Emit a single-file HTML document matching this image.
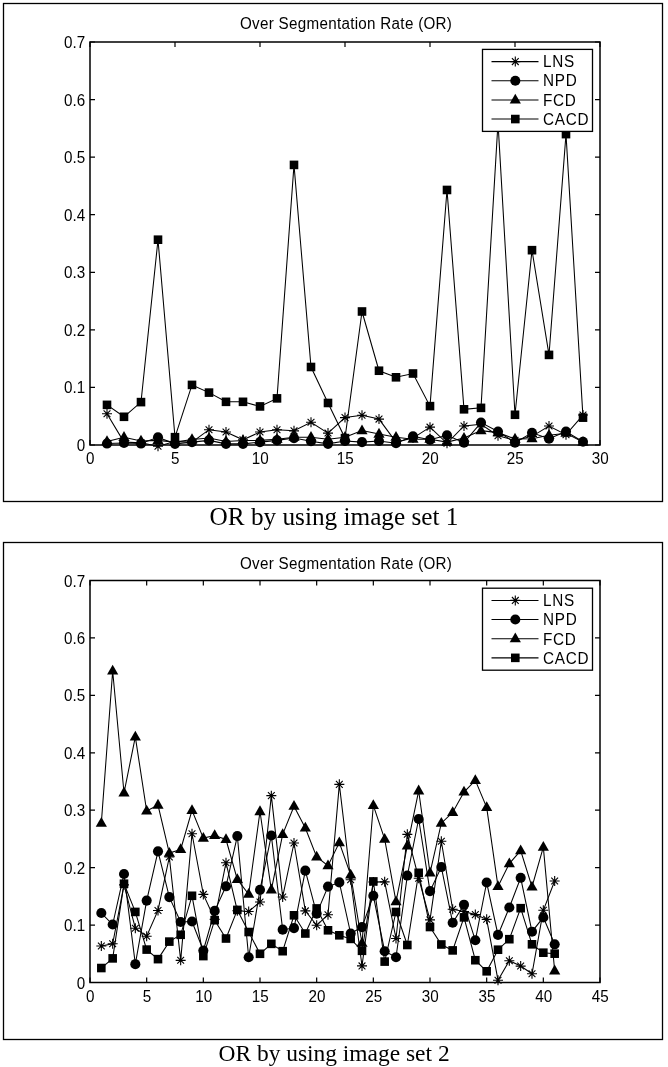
<!DOCTYPE html><html><head><meta charset="utf-8"><title>OR plots</title><style>html,body{margin:0;padding:0;background:#fff}svg{display:block}.ln{fill:none;stroke:#000;stroke-width:1.05;stroke-linejoin:miter}.st{fill:none;stroke:#000;stroke-width:1.1}.ax{fill:none;stroke:#000;stroke-width:1.5}.tk{fill:none;stroke:#000;stroke-width:1.2}.fr{fill:none;stroke:#000;stroke-width:1.3}text{font-family:"Liberation Sans",Arial,sans-serif;fill:#000}.t{font-size:15.2px;letter-spacing:0.3px}.g{font-size:15.3px;letter-spacing:0.75px}.l{font-size:15.2px}.c{font-family:"Liberation Serif","Times New Roman",serif;}</style></head><body>
<svg width="668" height="1067" viewBox="0 0 668 1067">
<rect width="668" height="1067" fill="#fff"/>
<rect x="3.5" y="3.5" width="659" height="498" class="fr"/>
<rect x="3.5" y="542.5" width="659" height="497" class="fr"/>
<g>
<text transform="matrix(1 0 0 1.08 346.1 28.7)" class="t" text-anchor="middle">Over Segmentation Rate (OR)</text>
<polyline points="107,413.68 124,442.12 141,442.7 158,446.15 175,441.55 192,442.12 209,429.69 226,431.99 243,439.82 260,431.99 277,429.69 294,430.84 311,422.32 328,433.08 345,417.6 362,415.29 379,419.09 396,442.12 413,438.09 430,427.15 447,443.27 464,426 481,424.27 498,435.79 515,440.39 532,436.36 549,426 566,434.64 583,415.06" class="ln"/>
<path d="M102 413.68H112M107 408.68V418.68M103.6 410.28L110.4 417.08M103.6 417.08L110.4 410.28" class="st"/>
<path d="M119 442.12H129M124 437.12V447.12M120.6 438.72L127.4 445.52M120.6 445.52L127.4 438.72" class="st"/>
<path d="M136 442.7H146M141 437.7V447.7M137.6 439.3L144.4 446.1M137.6 446.1L144.4 439.3" class="st"/>
<path d="M153 446.15H163M158 441.15V451.15M154.6 442.75L161.4 449.55M154.6 449.55L161.4 442.75" class="st"/>
<path d="M170 441.55H180M175 436.55V446.55M171.6 438.15L178.4 444.95M171.6 444.95L178.4 438.15" class="st"/>
<path d="M187 442.12H197M192 437.12V447.12M188.6 438.72L195.4 445.52M188.6 445.52L195.4 438.72" class="st"/>
<path d="M204 429.69H214M209 424.69V434.69M205.6 426.29L212.4 433.09M205.6 433.09L212.4 426.29" class="st"/>
<path d="M221 431.99H231M226 426.99V436.99M222.6 428.59L229.4 435.39M222.6 435.39L229.4 428.59" class="st"/>
<path d="M238 439.82H248M243 434.82V444.82M239.6 436.42L246.4 443.22M239.6 443.22L246.4 436.42" class="st"/>
<path d="M255 431.99H265M260 426.99V436.99M256.6 428.59L263.4 435.39M256.6 435.39L263.4 428.59" class="st"/>
<path d="M272 429.69H282M277 424.69V434.69M273.6 426.29L280.4 433.09M273.6 433.09L280.4 426.29" class="st"/>
<path d="M289 430.84H299M294 425.84V435.84M290.6 427.44L297.4 434.24M290.6 434.24L297.4 427.44" class="st"/>
<path d="M306 422.32H316M311 417.32V427.32M307.6 418.92L314.4 425.72M307.6 425.72L314.4 418.92" class="st"/>
<path d="M323 433.08H333M328 428.08V438.08M324.6 429.68L331.4 436.48M324.6 436.48L331.4 429.68" class="st"/>
<path d="M340 417.6H350M345 412.6V422.6M341.6 414.2L348.4 421M341.6 421L348.4 414.2" class="st"/>
<path d="M357 415.29H367M362 410.29V420.29M358.6 411.89L365.4 418.69M358.6 418.69L365.4 411.89" class="st"/>
<path d="M374 419.09H384M379 414.09V424.09M375.6 415.69L382.4 422.49M375.6 422.49L382.4 415.69" class="st"/>
<path d="M391 442.12H401M396 437.12V447.12M392.6 438.72L399.4 445.52M392.6 445.52L399.4 438.72" class="st"/>
<path d="M408 438.09H418M413 433.09V443.09M409.6 434.69L416.4 441.49M409.6 441.49L416.4 434.69" class="st"/>
<path d="M425 427.15H435M430 422.15V432.15M426.6 423.75L433.4 430.55M426.6 430.55L433.4 423.75" class="st"/>
<path d="M442 443.27H452M447 438.27V448.27M443.6 439.87L450.4 446.67M443.6 446.67L450.4 439.87" class="st"/>
<path d="M459 426H469M464 421V431M460.6 422.6L467.4 429.4M460.6 429.4L467.4 422.6" class="st"/>
<path d="M476 424.27H486M481 419.27V429.27M477.6 420.87L484.4 427.67M477.6 427.67L484.4 420.87" class="st"/>
<path d="M493 435.79H503M498 430.79V440.79M494.6 432.39L501.4 439.19M494.6 439.19L501.4 432.39" class="st"/>
<path d="M510 440.39H520M515 435.39V445.39M511.6 436.99L518.4 443.79M511.6 443.79L518.4 436.99" class="st"/>
<path d="M527 436.36H537M532 431.36V441.36M528.6 432.96L535.4 439.76M528.6 439.76L535.4 432.96" class="st"/>
<path d="M544 426H554M549 421V431M545.6 422.6L552.4 429.4M545.6 429.4L552.4 422.6" class="st"/>
<path d="M561 434.64H571M566 429.64V439.64M562.6 431.24L569.4 438.04M562.6 438.04L569.4 431.24" class="st"/>
<path d="M578 415.06H588M583 410.06V420.06M579.6 411.66L586.4 418.46M579.6 418.46L586.4 411.66" class="st"/>
<polyline points="107,443.56 124,442.99 141,443.56 158,437.23 175,443.85 192,442.12 209,440.39 226,443.85 243,443.85 260,442.12 277,440.39 294,438.09 311,441.2 328,443.85 345,440.97 362,442.12 379,440.97 396,443.27 413,436.36 430,439.82 447,435.21 464,442.7 481,422.55 498,431.47 515,442.7 532,432.74 549,438.67 566,431.47 583,441.78" class="ln"/>
<circle cx="107" cy="443.56" r="5.05"/>
<circle cx="124" cy="442.99" r="5.05"/>
<circle cx="141" cy="443.56" r="5.05"/>
<circle cx="158" cy="437.23" r="5.05"/>
<circle cx="175" cy="443.85" r="5.05"/>
<circle cx="192" cy="442.12" r="5.05"/>
<circle cx="209" cy="440.39" r="5.05"/>
<circle cx="226" cy="443.85" r="5.05"/>
<circle cx="243" cy="443.85" r="5.05"/>
<circle cx="260" cy="442.12" r="5.05"/>
<circle cx="277" cy="440.39" r="5.05"/>
<circle cx="294" cy="438.09" r="5.05"/>
<circle cx="311" cy="441.2" r="5.05"/>
<circle cx="328" cy="443.85" r="5.05"/>
<circle cx="345" cy="440.97" r="5.05"/>
<circle cx="362" cy="442.12" r="5.05"/>
<circle cx="379" cy="440.97" r="5.05"/>
<circle cx="396" cy="443.27" r="5.05"/>
<circle cx="413" cy="436.36" r="5.05"/>
<circle cx="430" cy="439.82" r="5.05"/>
<circle cx="447" cy="435.21" r="5.05"/>
<circle cx="464" cy="442.7" r="5.05"/>
<circle cx="481" cy="422.55" r="5.05"/>
<circle cx="498" cy="431.47" r="5.05"/>
<circle cx="515" cy="442.7" r="5.05"/>
<circle cx="532" cy="432.74" r="5.05"/>
<circle cx="549" cy="438.67" r="5.05"/>
<circle cx="566" cy="431.47" r="5.05"/>
<circle cx="583" cy="441.78" r="5.05"/>
<polyline points="107,441.43 124,437.29 141,440.97 158,440.39 175,442.12 192,439.53 209,438.09 226,441.55 243,440.51 260,440.39 277,439.24 294,437.17 311,437.17 328,439.24 345,437.17 362,430.61 379,434.06 396,437.17 413,439.24 430,439.24 447,442.12 464,438.09 481,430.61 498,432.62 515,439.07 532,438.67 549,435.21 566,433.2 583,442.12" class="ln"/>
<path d="M107 435.23L112.6 445.03L101.4 445.03Z"/>
<path d="M124 431.09L129.6 440.89L118.4 440.89Z"/>
<path d="M141 434.77L146.6 444.57L135.4 444.57Z"/>
<path d="M158 434.19L163.6 443.99L152.4 443.99Z"/>
<path d="M175 435.92L180.6 445.72L169.4 445.72Z"/>
<path d="M192 433.33L197.6 443.13L186.4 443.13Z"/>
<path d="M209 431.89L214.6 441.69L203.4 441.69Z"/>
<path d="M226 435.35L231.6 445.15L220.4 445.15Z"/>
<path d="M243 434.31L248.6 444.11L237.4 444.11Z"/>
<path d="M260 434.19L265.6 443.99L254.4 443.99Z"/>
<path d="M277 433.04L282.6 442.84L271.4 442.84Z"/>
<path d="M294 430.97L299.6 440.77L288.4 440.77Z"/>
<path d="M311 430.97L316.6 440.77L305.4 440.77Z"/>
<path d="M328 433.04L333.6 442.84L322.4 442.84Z"/>
<path d="M345 430.97L350.6 440.77L339.4 440.77Z"/>
<path d="M362 424.41L367.6 434.21L356.4 434.21Z"/>
<path d="M379 427.86L384.6 437.66L373.4 437.66Z"/>
<path d="M396 430.97L401.6 440.77L390.4 440.77Z"/>
<path d="M413 433.04L418.6 442.84L407.4 442.84Z"/>
<path d="M430 433.04L435.6 442.84L424.4 442.84Z"/>
<path d="M447 435.92L452.6 445.72L441.4 445.72Z"/>
<path d="M464 431.89L469.6 441.69L458.4 441.69Z"/>
<path d="M481 424.41L486.6 434.21L475.4 434.21Z"/>
<path d="M498 426.42L503.6 436.22L492.4 436.22Z"/>
<path d="M515 432.87L520.6 442.67L509.4 442.67Z"/>
<path d="M532 432.47L537.6 442.27L526.4 442.27Z"/>
<path d="M549 429.01L554.6 438.81L543.4 438.81Z"/>
<path d="M566 427L571.6 436.8L560.4 436.8Z"/>
<path d="M583 435.92L588.6 445.72L577.4 445.72Z"/>
<polyline points="107,404.87 124,416.79 141,402.11 158,239.7 175,437.17 192,384.9 209,392.61 226,401.82 243,401.82 260,406.43 277,398.37 294,164.91 311,366.99 328,402.97 345,438.09 362,311.49 379,370.73 396,377.3 413,373.5 430,406.14 447,189.96 464,409.31 481,407.87 498,122.6 515,414.77 532,250.18 549,354.9 566,134.11 583,417.65" class="ln"/>
<rect x="102.7" y="400.57" width="8.6" height="8.6"/>
<rect x="119.7" y="412.49" width="8.6" height="8.6"/>
<rect x="136.7" y="397.81" width="8.6" height="8.6"/>
<rect x="153.7" y="235.4" width="8.6" height="8.6"/>
<rect x="170.7" y="432.87" width="8.6" height="8.6"/>
<rect x="187.7" y="380.6" width="8.6" height="8.6"/>
<rect x="204.7" y="388.31" width="8.6" height="8.6"/>
<rect x="221.7" y="397.52" width="8.6" height="8.6"/>
<rect x="238.7" y="397.52" width="8.6" height="8.6"/>
<rect x="255.7" y="402.13" width="8.6" height="8.6"/>
<rect x="272.7" y="394.07" width="8.6" height="8.6"/>
<rect x="289.7" y="160.61" width="8.6" height="8.6"/>
<rect x="306.7" y="362.69" width="8.6" height="8.6"/>
<rect x="323.7" y="398.67" width="8.6" height="8.6"/>
<rect x="340.7" y="433.79" width="8.6" height="8.6"/>
<rect x="357.7" y="307.19" width="8.6" height="8.6"/>
<rect x="374.7" y="366.43" width="8.6" height="8.6"/>
<rect x="391.7" y="373" width="8.6" height="8.6"/>
<rect x="408.7" y="369.2" width="8.6" height="8.6"/>
<rect x="425.7" y="401.84" width="8.6" height="8.6"/>
<rect x="442.7" y="185.66" width="8.6" height="8.6"/>
<rect x="459.7" y="405.01" width="8.6" height="8.6"/>
<rect x="476.7" y="403.57" width="8.6" height="8.6"/>
<rect x="493.7" y="118.3" width="8.6" height="8.6"/>
<rect x="510.7" y="410.47" width="8.6" height="8.6"/>
<rect x="527.7" y="245.88" width="8.6" height="8.6"/>
<rect x="544.7" y="350.6" width="8.6" height="8.6"/>
<rect x="561.7" y="129.81" width="8.6" height="8.6"/>
<rect x="578.7" y="413.35" width="8.6" height="8.6"/>
<rect x="90" y="42" width="510" height="403" class="ax"/>
<path d="M90 445v-5M90 42v5M175 445v-5M175 42v5M260 445v-5M260 42v5M345 445v-5M345 42v5M430 445v-5M430 42v5M515 445v-5M515 42v5M600 445v-5M600 42v5M90 445h5M600 445h-5M90 387.43h5M600 387.43h-5M90 329.86h5M600 329.86h-5M90 272.29h5M600 272.29h-5M90 214.71h5M600 214.71h-5M90 157.14h5M600 157.14h-5M90 99.57h5M600 99.57h-5M90 42h5M600 42h-5" class="tk"/>
<text transform="matrix(1 0 0 1.07 90.3 464)" class="l" text-anchor="middle">0</text>
<text transform="matrix(1 0 0 1.07 175.3 464)" class="l" text-anchor="middle">5</text>
<text transform="matrix(1 0 0 1.07 260.3 464)" class="l" text-anchor="middle">10</text>
<text transform="matrix(1 0 0 1.07 345.3 464)" class="l" text-anchor="middle">15</text>
<text transform="matrix(1 0 0 1.07 430.3 464)" class="l" text-anchor="middle">20</text>
<text transform="matrix(1 0 0 1.07 515.3 464)" class="l" text-anchor="middle">25</text>
<text transform="matrix(1 0 0 1.07 600.3 464)" class="l" text-anchor="middle">30</text>
<text transform="matrix(1 0 0 1.07 85.2 451)" class="l" text-anchor="end">0</text>
<text transform="matrix(1 0 0 1.07 85.2 393.43)" class="l" text-anchor="end">0.1</text>
<text transform="matrix(1 0 0 1.07 85.2 335.86)" class="l" text-anchor="end">0.2</text>
<text transform="matrix(1 0 0 1.07 85.2 278.29)" class="l" text-anchor="end">0.3</text>
<text transform="matrix(1 0 0 1.07 85.2 220.71)" class="l" text-anchor="end">0.4</text>
<text transform="matrix(1 0 0 1.07 85.2 163.14)" class="l" text-anchor="end">0.5</text>
<text transform="matrix(1 0 0 1.07 85.2 105.57)" class="l" text-anchor="end">0.6</text>
<text transform="matrix(1 0 0 1.07 85.2 48)" class="l" text-anchor="end">0.7</text>
<rect x="482.5" y="49.4" width="110" height="82" fill="#fff" stroke="#000" stroke-width="1.3"/>
<path d="M491.5 61.6H538.5" class="ln"/>
<path d="M510.3 61.6H520.3M515.3 56.6V66.6M511.9 58.2L518.7 65M511.9 65L518.7 58.2" class="st"/>
<text transform="matrix(1 0 0 1.06 543.0 67)" class="g">LNS</text>
<path d="M491.5 80.75H538.5" class="ln"/>
<circle cx="515.3" cy="80.75" r="5.05"/>
<text transform="matrix(1 0 0 1.06 543.0 86.35)" class="g">NPD</text>
<path d="M491.5 99.9H538.5" class="ln"/>
<path d="M515.3 93.7L520.9 103.5L509.7 103.5Z"/>
<text transform="matrix(1 0 0 1.06 543.0 105.7)" class="g">FCD</text>
<path d="M491.5 119.05H538.5" class="ln"/>
<rect x="511" y="114.75" width="8.6" height="8.6"/>
<text transform="matrix(1 0 0 1.06 543.0 125.05)" class="g">CACD</text>
</g><g>
<text transform="matrix(1 0 0 1.08 346.1 568.9)" class="t" text-anchor="middle">Over Segmentation Rate (OR)</text>
<polyline points="101.33,945.98 112.67,943.79 124,884.87 135.33,928.23 146.67,936.27 158,910.43 169.33,857.02 180.67,960.33 192,833.76 203.33,894.4 214.67,919.33 226,862.7 237.33,910.71 248.67,911.52 260,901.99 271.33,795.63 282.67,896.93 294,843.01 305.33,910.89 316.67,925.3 328,914.73 339.33,784.37 350.67,879.7 362,965.9 373.33,882 384.67,881.83 396,938.51 407.33,834.33 418.67,878.21 430,919.9 441.33,841.23 452.67,909.22 464,911.52 475.33,914.62 486.67,919.33 498,980.2 509.33,960.68 520.67,966.08 532,973.77 543.33,910.31 554.67,881.02" class="ln"/>
<path d="M96.33 945.98H106.33M101.33 940.98V950.98M97.93 942.58L104.73 949.38M97.93 949.38L104.73 942.58" class="st"/>
<path d="M107.67 943.79H117.67M112.67 938.79V948.79M109.27 940.39L116.07 947.19M109.27 947.19L116.07 940.39" class="st"/>
<path d="M119 884.87H129M124 879.87V889.87M120.6 881.47L127.4 888.27M120.6 888.27L127.4 881.47" class="st"/>
<path d="M130.33 928.23H140.33M135.33 923.23V933.23M131.93 924.83L138.73 931.63M131.93 931.63L138.73 924.83" class="st"/>
<path d="M141.67 936.27H151.67M146.67 931.27V941.27M143.27 932.87L150.07 939.67M143.27 939.67L150.07 932.87" class="st"/>
<path d="M153 910.43H163M158 905.43V915.43M154.6 907.03L161.4 913.83M154.6 913.83L161.4 907.03" class="st"/>
<path d="M164.33 857.02H174.33M169.33 852.02V862.02M165.93 853.62L172.73 860.42M165.93 860.42L172.73 853.62" class="st"/>
<path d="M175.67 960.33H185.67M180.67 955.33V965.33M177.27 956.93L184.07 963.73M177.27 963.73L184.07 956.93" class="st"/>
<path d="M187 833.76H197M192 828.76V838.76M188.6 830.36L195.4 837.16M188.6 837.16L195.4 830.36" class="st"/>
<path d="M198.33 894.4H208.33M203.33 889.4V899.4M199.93 891L206.73 897.8M199.93 897.8L206.73 891" class="st"/>
<path d="M209.67 919.33H219.67M214.67 914.33V924.33M211.27 915.93L218.07 922.73M211.27 922.73L218.07 915.93" class="st"/>
<path d="M221 862.7H231M226 857.7V867.7M222.6 859.3L229.4 866.1M222.6 866.1L229.4 859.3" class="st"/>
<path d="M232.33 910.71H242.33M237.33 905.71V915.71M233.93 907.31L240.73 914.11M233.93 914.11L240.73 907.31" class="st"/>
<path d="M243.67 911.52H253.67M248.67 906.52V916.52M245.27 908.12L252.07 914.92M245.27 914.92L252.07 908.12" class="st"/>
<path d="M255 901.99H265M260 896.99V906.99M256.6 898.59L263.4 905.39M256.6 905.39L263.4 898.59" class="st"/>
<path d="M266.33 795.63H276.33M271.33 790.63V800.63M267.93 792.23L274.73 799.03M267.93 799.03L274.73 792.23" class="st"/>
<path d="M277.67 896.93H287.67M282.67 891.93V901.93M279.27 893.53L286.07 900.33M279.27 900.33L286.07 893.53" class="st"/>
<path d="M289 843.01H299M294 838.01V848.01M290.6 839.61L297.4 846.41M290.6 846.41L297.4 839.61" class="st"/>
<path d="M300.33 910.89H310.33M305.33 905.89V915.89M301.93 907.49L308.73 914.29M301.93 914.29L308.73 907.49" class="st"/>
<path d="M311.67 925.3H321.67M316.67 920.3V930.3M313.27 921.9L320.07 928.7M313.27 928.7L320.07 921.9" class="st"/>
<path d="M323 914.73H333M328 909.73V919.73M324.6 911.33L331.4 918.13M324.6 918.13L331.4 911.33" class="st"/>
<path d="M334.33 784.37H344.33M339.33 779.37V789.37M335.93 780.97L342.73 787.77M335.93 787.77L342.73 780.97" class="st"/>
<path d="M345.67 879.7H355.67M350.67 874.7V884.7M347.27 876.3L354.07 883.1M347.27 883.1L354.07 876.3" class="st"/>
<path d="M357 965.9H367M362 960.9V970.9M358.6 962.5L365.4 969.3M358.6 969.3L365.4 962.5" class="st"/>
<path d="M368.33 882H378.33M373.33 877V887M369.93 878.6L376.73 885.4M369.93 885.4L376.73 878.6" class="st"/>
<path d="M379.67 881.83H389.67M384.67 876.83V886.83M381.27 878.43L388.07 885.23M381.27 885.23L388.07 878.43" class="st"/>
<path d="M391 938.51H401M396 933.51V943.51M392.6 935.11L399.4 941.91M392.6 941.91L399.4 935.11" class="st"/>
<path d="M402.33 834.33H412.33M407.33 829.33V839.33M403.93 830.93L410.73 837.73M403.93 837.73L410.73 830.93" class="st"/>
<path d="M413.67 878.21H423.67M418.67 873.21V883.21M415.27 874.81L422.07 881.61M415.27 881.61L422.07 874.81" class="st"/>
<path d="M425 919.9H435M430 914.9V924.9M426.6 916.5L433.4 923.3M426.6 923.3L433.4 916.5" class="st"/>
<path d="M436.33 841.23H446.33M441.33 836.23V846.23M437.93 837.83L444.73 844.63M437.93 844.63L444.73 837.83" class="st"/>
<path d="M447.67 909.22H457.67M452.67 904.22V914.22M449.27 905.82L456.07 912.62M449.27 912.62L456.07 905.82" class="st"/>
<path d="M459 911.52H469M464 906.52V916.52M460.6 908.12L467.4 914.92M460.6 914.92L467.4 908.12" class="st"/>
<path d="M470.33 914.62H480.33M475.33 909.62V919.62M471.93 911.22L478.73 918.02M471.93 918.02L478.73 911.22" class="st"/>
<path d="M481.67 919.33H491.67M486.67 914.33V924.33M483.27 915.93L490.07 922.73M483.27 922.73L490.07 915.93" class="st"/>
<path d="M493 980.2H503M498 975.2V985.2M494.6 976.8L501.4 983.6M494.6 983.6L501.4 976.8" class="st"/>
<path d="M504.33 960.68H514.33M509.33 955.68V965.68M505.93 957.28L512.73 964.08M505.93 964.08L512.73 957.28" class="st"/>
<path d="M515.67 966.08H525.67M520.67 961.08V971.08M517.27 962.68L524.07 969.48M517.27 969.48L524.07 962.68" class="st"/>
<path d="M527 973.77H537M532 968.77V978.77M528.6 970.37L535.4 977.17M528.6 977.17L535.4 970.37" class="st"/>
<path d="M538.33 910.31H548.33M543.33 905.31V915.31M539.93 906.91L546.73 913.71M539.93 913.71L546.73 906.91" class="st"/>
<path d="M549.67 881.02H559.67M554.67 876.02V886.02M551.27 877.62L558.07 884.42M551.27 884.42L558.07 877.62" class="st"/>
<polyline points="101.33,913.01 112.67,924.5 124,873.96 135.33,964.18 146.67,900.61 158,851.33 169.33,897.1 180.67,922.03 192,921.51 203.33,950.51 214.67,910.89 226,886.31 237.33,836.06 248.67,957.23 260,889.81 271.33,835.48 282.67,929.67 294,928.12 305.33,870.63 316.67,913.59 328,886.59 339.33,882.4 350.67,933.51 362,927.08 373.33,895.78 384.67,951.2 396,957.23 407.33,875.57 418.67,819 430,891.13 441.33,867.07 452.67,922.77 464,904.68 475.33,940.29 486.67,882.52 498,934.89 509.33,907.5 520.67,877.81 532,931.68 543.33,917.38 554.67,944.31" class="ln"/>
<circle cx="101.33" cy="913.01" r="5.05"/>
<circle cx="112.67" cy="924.5" r="5.05"/>
<circle cx="124" cy="873.96" r="5.05"/>
<circle cx="135.33" cy="964.18" r="5.05"/>
<circle cx="146.67" cy="900.61" r="5.05"/>
<circle cx="158" cy="851.33" r="5.05"/>
<circle cx="169.33" cy="897.1" r="5.05"/>
<circle cx="180.67" cy="922.03" r="5.05"/>
<circle cx="192" cy="921.51" r="5.05"/>
<circle cx="203.33" cy="950.51" r="5.05"/>
<circle cx="214.67" cy="910.89" r="5.05"/>
<circle cx="226" cy="886.31" r="5.05"/>
<circle cx="237.33" cy="836.06" r="5.05"/>
<circle cx="248.67" cy="957.23" r="5.05"/>
<circle cx="260" cy="889.81" r="5.05"/>
<circle cx="271.33" cy="835.48" r="5.05"/>
<circle cx="282.67" cy="929.67" r="5.05"/>
<circle cx="294" cy="928.12" r="5.05"/>
<circle cx="305.33" cy="870.63" r="5.05"/>
<circle cx="316.67" cy="913.59" r="5.05"/>
<circle cx="328" cy="886.59" r="5.05"/>
<circle cx="339.33" cy="882.4" r="5.05"/>
<circle cx="350.67" cy="933.51" r="5.05"/>
<circle cx="362" cy="927.08" r="5.05"/>
<circle cx="373.33" cy="895.78" r="5.05"/>
<circle cx="384.67" cy="951.2" r="5.05"/>
<circle cx="396" cy="957.23" r="5.05"/>
<circle cx="407.33" cy="875.57" r="5.05"/>
<circle cx="418.67" cy="819" r="5.05"/>
<circle cx="430" cy="891.13" r="5.05"/>
<circle cx="441.33" cy="867.07" r="5.05"/>
<circle cx="452.67" cy="922.77" r="5.05"/>
<circle cx="464" cy="904.68" r="5.05"/>
<circle cx="475.33" cy="940.29" r="5.05"/>
<circle cx="486.67" cy="882.52" r="5.05"/>
<circle cx="498" cy="934.89" r="5.05"/>
<circle cx="509.33" cy="907.5" r="5.05"/>
<circle cx="520.67" cy="877.81" r="5.05"/>
<circle cx="532" cy="931.68" r="5.05"/>
<circle cx="543.33" cy="917.38" r="5.05"/>
<circle cx="554.67" cy="944.31" r="5.05"/>
<polyline points="101.33,823.08 112.67,671.01 124,792.81 135.33,736.88 146.67,811.02 158,805.05 169.33,853.11 180.67,849.5 192,810.33 203.33,838.12 214.67,835.48 226,839.5 237.33,879.42 248.67,894.23 260,811.54 271.33,889.81 282.67,834.33 294,806.19 305.33,828.02 316.67,857.02 328,865.63 339.33,842.6 350.67,874.88 362,943.22 373.33,805.33 384.67,839.1 396,901.58 407.33,845.88 418.67,790.8 430,872.81 441.33,823.19 452.67,812.4 464,792.01 475.33,780.35 486.67,807.34 498,886.42 509.33,863.62 520.67,850.59 532,886.88 543.33,847.08 554.67,970.78" class="ln"/>
<path d="M101.33 816.88L106.93 826.68L95.73 826.68Z"/>
<path d="M112.67 664.81L118.27 674.61L107.07 674.61Z"/>
<path d="M124 786.61L129.6 796.41L118.4 796.41Z"/>
<path d="M135.33 730.68L140.93 740.48L129.73 740.48Z"/>
<path d="M146.67 804.82L152.27 814.62L141.07 814.62Z"/>
<path d="M158 798.85L163.6 808.65L152.4 808.65Z"/>
<path d="M169.33 846.91L174.93 856.71L163.73 856.71Z"/>
<path d="M180.67 843.3L186.27 853.1L175.07 853.1Z"/>
<path d="M192 804.13L197.6 813.93L186.4 813.93Z"/>
<path d="M203.33 831.92L208.93 841.72L197.73 841.72Z"/>
<path d="M214.67 829.28L220.27 839.08L209.07 839.08Z"/>
<path d="M226 833.3L231.6 843.1L220.4 843.1Z"/>
<path d="M237.33 873.22L242.93 883.02L231.73 883.02Z"/>
<path d="M248.67 888.03L254.27 897.83L243.07 897.83Z"/>
<path d="M260 805.34L265.6 815.14L254.4 815.14Z"/>
<path d="M271.33 883.61L276.93 893.41L265.73 893.41Z"/>
<path d="M282.67 828.13L288.27 837.93L277.07 837.93Z"/>
<path d="M294 799.99L299.6 809.79L288.4 809.79Z"/>
<path d="M305.33 821.82L310.93 831.62L299.73 831.62Z"/>
<path d="M316.67 850.82L322.27 860.62L311.07 860.62Z"/>
<path d="M328 859.43L333.6 869.23L322.4 869.23Z"/>
<path d="M339.33 836.4L344.93 846.2L333.73 846.2Z"/>
<path d="M350.67 868.68L356.27 878.48L345.07 878.48Z"/>
<path d="M362 937.02L367.6 946.82L356.4 946.82Z"/>
<path d="M373.33 799.13L378.93 808.93L367.73 808.93Z"/>
<path d="M384.67 832.9L390.27 842.7L379.07 842.7Z"/>
<path d="M396 895.38L401.6 905.18L390.4 905.18Z"/>
<path d="M407.33 839.68L412.93 849.48L401.73 849.48Z"/>
<path d="M418.67 784.6L424.27 794.4L413.07 794.4Z"/>
<path d="M430 866.61L435.6 876.41L424.4 876.41Z"/>
<path d="M441.33 816.99L446.93 826.79L435.73 826.79Z"/>
<path d="M452.67 806.2L458.27 816L447.07 816Z"/>
<path d="M464 785.81L469.6 795.61L458.4 795.61Z"/>
<path d="M475.33 774.15L480.93 783.95L469.73 783.95Z"/>
<path d="M486.67 801.14L492.27 810.94L481.07 810.94Z"/>
<path d="M498 880.22L503.6 890.02L492.4 890.02Z"/>
<path d="M509.33 857.42L514.93 867.22L503.73 867.22Z"/>
<path d="M520.67 844.39L526.27 854.19L515.07 854.19Z"/>
<path d="M532 880.68L537.6 890.48L526.4 890.48Z"/>
<path d="M543.33 840.88L548.93 850.68L537.73 850.68Z"/>
<path d="M554.67 964.58L560.27 974.38L549.07 974.38Z"/>
<polyline points="101.33,968.03 112.67,958.38 124,883.72 135.33,911.92 146.67,949.59 158,959.13 169.33,941.61 180.67,934.78 192,895.78 203.33,956.08 214.67,920.19 226,938.51 237.33,909.91 248.67,932.02 260,953.79 271.33,943.85 282.67,951.2 294,915.31 305.33,933.51 316.67,908.42 328,930.3 339.33,935.29 350.67,938.91 362,950.8 373.33,881.43 384.67,961.6 396,911.98 407.33,945 418.67,872.81 430,927.02 441.33,944.48 452.67,950.4 464,917.38 475.33,960.22 486.67,971.3 498,949.71 509.33,939.2 520.67,908.19 532,944.31 543.33,952.69 554.67,953.67" class="ln"/>
<rect x="97.03" y="963.73" width="8.6" height="8.6"/>
<rect x="108.37" y="954.08" width="8.6" height="8.6"/>
<rect x="119.7" y="879.42" width="8.6" height="8.6"/>
<rect x="131.03" y="907.62" width="8.6" height="8.6"/>
<rect x="142.37" y="945.29" width="8.6" height="8.6"/>
<rect x="153.7" y="954.83" width="8.6" height="8.6"/>
<rect x="165.03" y="937.31" width="8.6" height="8.6"/>
<rect x="176.37" y="930.48" width="8.6" height="8.6"/>
<rect x="187.7" y="891.48" width="8.6" height="8.6"/>
<rect x="199.03" y="951.78" width="8.6" height="8.6"/>
<rect x="210.37" y="915.89" width="8.6" height="8.6"/>
<rect x="221.7" y="934.21" width="8.6" height="8.6"/>
<rect x="233.03" y="905.61" width="8.6" height="8.6"/>
<rect x="244.37" y="927.72" width="8.6" height="8.6"/>
<rect x="255.7" y="949.49" width="8.6" height="8.6"/>
<rect x="267.03" y="939.55" width="8.6" height="8.6"/>
<rect x="278.37" y="946.9" width="8.6" height="8.6"/>
<rect x="289.7" y="911.01" width="8.6" height="8.6"/>
<rect x="301.03" y="929.21" width="8.6" height="8.6"/>
<rect x="312.37" y="904.12" width="8.6" height="8.6"/>
<rect x="323.7" y="926" width="8.6" height="8.6"/>
<rect x="335.03" y="930.99" width="8.6" height="8.6"/>
<rect x="346.37" y="934.61" width="8.6" height="8.6"/>
<rect x="357.7" y="946.5" width="8.6" height="8.6"/>
<rect x="369.03" y="877.13" width="8.6" height="8.6"/>
<rect x="380.37" y="957.3" width="8.6" height="8.6"/>
<rect x="391.7" y="907.68" width="8.6" height="8.6"/>
<rect x="403.03" y="940.7" width="8.6" height="8.6"/>
<rect x="414.37" y="868.51" width="8.6" height="8.6"/>
<rect x="425.7" y="922.72" width="8.6" height="8.6"/>
<rect x="437.03" y="940.18" width="8.6" height="8.6"/>
<rect x="448.37" y="946.1" width="8.6" height="8.6"/>
<rect x="459.7" y="913.08" width="8.6" height="8.6"/>
<rect x="471.03" y="955.92" width="8.6" height="8.6"/>
<rect x="482.37" y="967" width="8.6" height="8.6"/>
<rect x="493.7" y="945.41" width="8.6" height="8.6"/>
<rect x="505.03" y="934.9" width="8.6" height="8.6"/>
<rect x="516.37" y="903.89" width="8.6" height="8.6"/>
<rect x="527.7" y="940.01" width="8.6" height="8.6"/>
<rect x="539.03" y="948.39" width="8.6" height="8.6"/>
<rect x="550.37" y="949.37" width="8.6" height="8.6"/>
<rect x="90" y="580.5" width="510" height="402" class="ax"/>
<path d="M90 982.5v-5M90 580.5v5M146.67 982.5v-5M146.67 580.5v5M203.33 982.5v-5M203.33 580.5v5M260 982.5v-5M260 580.5v5M316.67 982.5v-5M316.67 580.5v5M373.33 982.5v-5M373.33 580.5v5M430 982.5v-5M430 580.5v5M486.67 982.5v-5M486.67 580.5v5M543.33 982.5v-5M543.33 580.5v5M600 982.5v-5M600 580.5v5M90 982.5h5M600 982.5h-5M90 925.07h5M600 925.07h-5M90 867.64h5M600 867.64h-5M90 810.21h5M600 810.21h-5M90 752.79h5M600 752.79h-5M90 695.36h5M600 695.36h-5M90 637.93h5M600 637.93h-5M90 580.5h5M600 580.5h-5" class="tk"/>
<text transform="matrix(1 0 0 1.07 90.3 1001.5)" class="l" text-anchor="middle">0</text>
<text transform="matrix(1 0 0 1.07 146.97 1001.5)" class="l" text-anchor="middle">5</text>
<text transform="matrix(1 0 0 1.07 203.63 1001.5)" class="l" text-anchor="middle">10</text>
<text transform="matrix(1 0 0 1.07 260.3 1001.5)" class="l" text-anchor="middle">15</text>
<text transform="matrix(1 0 0 1.07 316.97 1001.5)" class="l" text-anchor="middle">20</text>
<text transform="matrix(1 0 0 1.07 373.63 1001.5)" class="l" text-anchor="middle">25</text>
<text transform="matrix(1 0 0 1.07 430.3 1001.5)" class="l" text-anchor="middle">30</text>
<text transform="matrix(1 0 0 1.07 486.97 1001.5)" class="l" text-anchor="middle">35</text>
<text transform="matrix(1 0 0 1.07 543.63 1001.5)" class="l" text-anchor="middle">40</text>
<text transform="matrix(1 0 0 1.07 600.3 1001.5)" class="l" text-anchor="middle">45</text>
<text transform="matrix(1 0 0 1.07 85.2 988.5)" class="l" text-anchor="end">0</text>
<text transform="matrix(1 0 0 1.07 85.2 931.07)" class="l" text-anchor="end">0.1</text>
<text transform="matrix(1 0 0 1.07 85.2 873.64)" class="l" text-anchor="end">0.2</text>
<text transform="matrix(1 0 0 1.07 85.2 816.21)" class="l" text-anchor="end">0.3</text>
<text transform="matrix(1 0 0 1.07 85.2 758.79)" class="l" text-anchor="end">0.4</text>
<text transform="matrix(1 0 0 1.07 85.2 701.36)" class="l" text-anchor="end">0.5</text>
<text transform="matrix(1 0 0 1.07 85.2 643.93)" class="l" text-anchor="end">0.6</text>
<text transform="matrix(1 0 0 1.07 85.2 586.5)" class="l" text-anchor="end">0.7</text>
<rect x="482.5" y="588.2" width="110" height="82" fill="#fff" stroke="#000" stroke-width="1.3"/>
<path d="M491.5 600.4H538.5" class="ln"/>
<path d="M510.3 600.4H520.3M515.3 595.4V605.4M511.9 597L518.7 603.8M511.9 603.8L518.7 597" class="st"/>
<text transform="matrix(1 0 0 1.06 543.0 605.8)" class="g">LNS</text>
<path d="M491.5 619.55H538.5" class="ln"/>
<circle cx="515.3" cy="619.55" r="5.05"/>
<text transform="matrix(1 0 0 1.06 543.0 625.15)" class="g">NPD</text>
<path d="M491.5 638.7H538.5" class="ln"/>
<path d="M515.3 632.5L520.9 642.3L509.7 642.3Z"/>
<text transform="matrix(1 0 0 1.06 543.0 644.5)" class="g">FCD</text>
<path d="M491.5 657.85H538.5" class="ln"/>
<rect x="511" y="653.55" width="8.6" height="8.6"/>
<text transform="matrix(1 0 0 1.06 543.0 663.85)" class="g">CACD</text>
</g>
<text x="209.5" y="524.7" class="c" style="font-size:25.25px">OR by using image set 1</text>
<text x="218.5" y="1061" class="c" style="font-size:23.45px">OR by using image set 2</text>
</svg></body></html>
